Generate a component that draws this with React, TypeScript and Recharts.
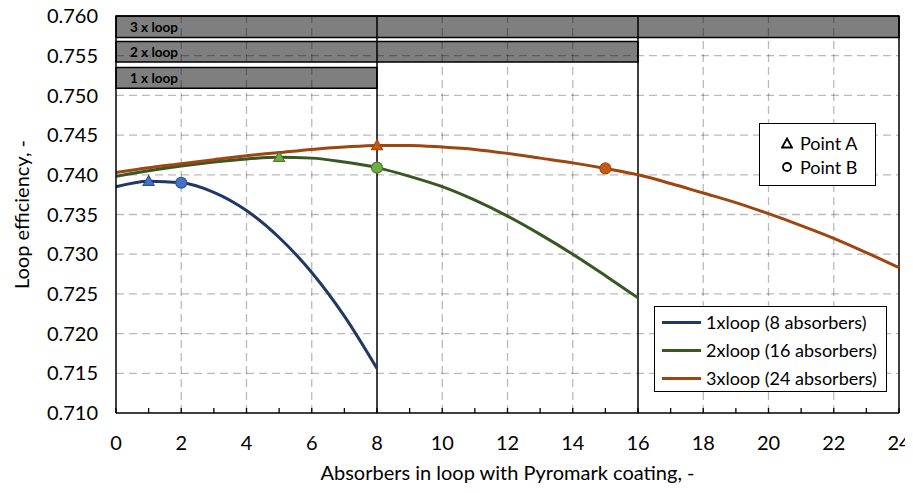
import React from 'react'
import {
  ComposedChart, Line, XAxis, YAxis, ReferenceArea, ReferenceLine, Label,
} from 'recharts'

const xs = [0, 1, 2, 3, 4, 5, 6, 7, 8, 9, 10, 11, 12, 13, 14, 15, 16, 17, 18, 19, 20, 21, 22, 23, 24]
const loop1 = [0.7385, 0.7392, 0.7390, 0.7378, 0.7355, 0.7321, 0.7277, 0.7222, 0.7156]
const loop2 = [
  0.7398, 0.7405, 0.7411, 0.7416, 0.7420, 0.7422, 0.7421, 0.7416, 0.7409,
  0.7398, 0.7385, 0.7368, 0.7348, 0.7325, 0.7300, 0.7273, 0.7245,
]
const loop3 = [
  0.7403, 0.7409, 0.7414, 0.7419, 0.7424, 0.7428, 0.7432, 0.7435, 0.7437,
  0.7437, 0.7435, 0.7432, 0.7427, 0.7421, 0.7415, 0.7408, 0.7400,
  0.7389, 0.7377, 0.7365, 0.7351, 0.7336, 0.7320, 0.7302, 0.7283,
]
const seriesNames = ['1xloop (8 absorbers)', '2xloop (16 absorbers)', '3xloop (24 absorbers)']
// x of "Point A" and "Point B" for each series
const pointA = [1, 5, 8]
const pointB = [2, 8, 15]
// stacked bands at the top: label, x end, y range
const bandLabels = ['3 x loop', '2 x loop', '1 x loop']
const bandEnds = [24, 16, 8]
const bandY = [[0.7573, 0.7600], [0.7542, 0.7568], [0.7509, 0.7535]]
const yTicks = [0.710, 0.715, 0.720, 0.725, 0.730, 0.735, 0.740, 0.745, 0.750, 0.755, 0.760]
const xGrid = [2, 4, 6, 10, 12, 14, 18, 20, 22]

const lineColors = ['#203864', '#385723', '#9E4510']
const markFill = ['#4472C4', '#70AD47', '#C55A11']
const markStroke = ['#2F528F', '#507E32', '#A8490D']

const data = xs.map((x, i) => ({ x, loop1: loop1[i], loop2: loop2[i], loop3: loop3[i] }))

const font = 'Lato, "Open Sans", sans-serif'

const makeDot = (s: number) => (props: any) => {
  const { cx, cy, payload, key } = props
  if (cx == null || cy == null || payload == null) return <g key={key} />
  if (payload.x === pointA[s]) {
    const r = 5.5
    return (
      <polygon key={key} points={`${cx},${cy - r} ${cx + r},${cy + r * 0.75} ${cx - r},${cy + r * 0.75}`}
        fill={markFill[s]} stroke={markStroke[s]} strokeWidth={1.2} />
    )
  }
  if (payload.x === pointB[s]) {
    return <circle key={key} cx={cx} cy={cy} r={5.5} fill={markFill[s]} stroke={markStroke[s]} strokeWidth={1.2} />
  }
  return <g key={key} />
}

const XTick = (props: any) => {
  const { x, y, payload } = props
  const v = payload.value
  return (
    <g>
      <line x1={x} x2={x} y1={y} y2={y - 5} stroke="#000" strokeWidth={1.3} />
      {v % 2 === 0 && (
        <text x={x} y={y + 37} textAnchor="middle" fontSize={20} fill="#000" fontFamily={font}>{v}</text>
      )}
    </g>
  )
}

export default function App() {
  return (
    <div style={{ position: 'relative', width: 913, height: 493, margin: -8, fontFamily: font }}>
      <ComposedChart width={913} height={493} data={data} margin={{ top: 16, right: 14, left: 46, bottom: 44 }}>
        <XAxis dataKey="x" type="number" domain={[0, 24]} ticks={xs} interval={0}
          tick={<XTick />} tickLine={false} tickSize={0} tickMargin={0} height={36}
          axisLine={{ stroke: '#000', strokeWidth: 1.5 }}>
          <Label value="Absorbers in loop with Pyromark coating, -" position="bottom" offset={17}
            style={{ fontSize: 20, fill: '#000', fontFamily: font }} />
        </XAxis>
        <YAxis type="number" domain={[0.71, 0.76]} ticks={yTicks} interval={0} width={70}
          tickFormatter={(v: number) => v.toFixed(3)} tickLine={false} tickSize={0} tickMargin={18}
          tick={{ fontSize: 20, fill: '#000', fontFamily: font }}
          axisLine={{ stroke: '#000', strokeWidth: 1.5 }}>
          <Label value="Loop efficiency, -" angle={-90} position="insideLeft" offset={-24}
            style={{ fontSize: 20, fill: '#000', fontFamily: font, textAnchor: 'middle' }} />
        </YAxis>

        {yTicks.slice(1, -1).map((v) => (
          <ReferenceLine key={'h' + v} y={v} stroke="#000" strokeOpacity={0.27} strokeDasharray="8 5" strokeWidth={1.3} />
        ))}
        {xGrid.map((v) => (
          <ReferenceLine key={'v' + v} x={v} stroke="#000" strokeOpacity={0.27} strokeDasharray="8 5" strokeWidth={1.3} />
        ))}

        {bandLabels.map((b, i) => (
          <ReferenceArea key={b} x1={0} x2={bandEnds[i]} y1={bandY[i][0]} y2={bandY[i][1]}
            fill="#000" fillOpacity={0.5} stroke="#000" strokeWidth={1.5} ifOverflow="extendDomain">
            <Label value={b} position="insideLeft" offset={14}
              style={{ fontSize: 13.5, fontWeight: 'bold', fill: '#000', fontFamily: font }} />
          </ReferenceArea>
        ))}

        <ReferenceLine x={8} stroke="#000" strokeWidth={1.5} />
        <ReferenceLine x={16} stroke="#000" strokeWidth={1.5} />
        <ReferenceLine x={24} stroke="#000" strokeWidth={1.5} />
        <ReferenceLine y={0.76} stroke="#000" strokeWidth={1.5} />

        {['loop1', 'loop2', 'loop3'].map((k, s) => (
          <Line key={k} dataKey={k} name={seriesNames[s]} type="monotone" stroke={lineColors[s]}
            strokeWidth={3} dot={makeDot(s)} activeDot={false} isAnimationActive={false} />
        ))}
      </ComposedChart>

      {/* series legend */}
      <div style={{
        position: 'absolute', left: 654, top: 306, width: 233, height: 86, border: '1.5px solid #000',
        background: '#fff', boxSizing: 'border-box', paddingTop: 1,
      }}>
        {seriesNames.map((n, i) => (
          <div key={n} style={{ display: 'flex', alignItems: 'center', height: 28, fontSize: 18, whiteSpace: 'nowrap' }}>
            <span style={{ display: 'inline-block', width: 39, height: 3, background: lineColors[i], marginLeft: 7, marginRight: 5 }} />
            <span>{n}</span>
          </div>
        ))}
      </div>

      {/* point legend */}
      <div style={{
        position: 'absolute', left: 759, top: 123, width: 117, height: 63, border: '1.5px solid #000',
        background: '#fff', boxSizing: 'border-box', paddingTop: 7,
      }}>
        {['Point A', 'Point B'].map((n, i) => (
          <div key={n} style={{ display: 'flex', alignItems: 'center', height: 24, fontSize: 18, whiteSpace: 'nowrap' }}>
            <svg width={12} height={12} style={{ marginLeft: 21, marginRight: 7 }}>
              {i === 0
                ? <polygon points="6,1.5 11,10.5 1,10.5" fill="none" stroke="#000" strokeWidth={1.8} />
                : <circle cx={6} cy={6} r={4} fill="none" stroke="#000" strokeWidth={1.8} />}
            </svg>
            <span>{n}</span>
          </div>
        ))}
      </div>
    </div>
  )
}
